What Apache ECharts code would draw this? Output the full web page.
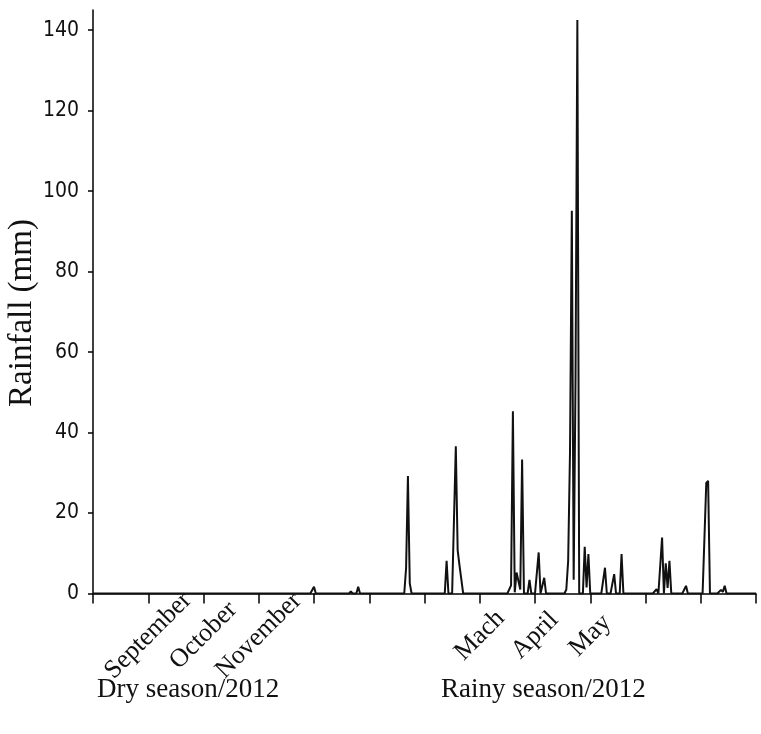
<!DOCTYPE html>
<html>
<head>
<meta charset="utf-8">
<script src="https://cdn.jsdelivr.net/npm/echarts@6/dist/echarts.min.js"></script>
<style>
html, body { margin: 0; padding: 0; background: #fff; }
#rain { width: 761px; height: 734px; }
</style>
</head>
<body>
<div id="rain"></div>
<script>
// days with rain (day 0 = start of the x axis, 30 days per tick) and daily rainfall, mm
const rainDay = [120, 140, 144, 170, 171, 172, 192, 197, 198, 199, 200,
  227, 228, 229, 230, 231, 232, 233, 237, 242, 245,
  257, 258, 259, 260, 261, 262, 263, 267, 268, 269, 278, 283, 287,
  306, 309, 311, 312, 313, 322, 333, 334, 341, 342, 343];
const rainMm = [1.7, 0.5, 1.7, 6.3, 29.2, 2.5, 8.1, 36.6, 10.8, 7, 3.5,
  2, 45.3, 0.3, 5.2, 4.8, 1, 33.3, 3.4, 10.2, 3.9,
  1, 8, 35, 95.1, 3.4, 53, 142.5, 11.6, 1.5, 9.8, 6.4, 4.8, 9.8,
  1.1, 13.9, 7.5, 1.4, 8.1, 1.9, 27.5, 28.0, 0.9, 0.4, 1.9];
const lastDay = 360;

// month tick labels
const monthTicks = [30, 60, 90, 210, 240, 270];
const monthNames = ['September', 'October', 'November', 'Mach', 'April', 'May'];
const yTicks = [0, 20, 40, 60, 80, 100, 120, 140];

// every other day had no rain
const daily = [];
for (let d = 0; d <= lastDay; d++) daily.push([d, 0]);
rainDay.forEach((d, i) => { daily[d][1] = rainMm[i]; });

const myChart = echarts.init(document.getElementById('rain'));
const serif = '"Liberation Serif", "Times New Roman", serif';
const narrow = '"Liberation Sans Narrow", "DejaVu Sans Condensed", "Liberation Sans", sans-serif';

const option = {
  animation: false,
  grid: { left: 93, right: 5, top: 10, bottom: 140.5 },
  xAxis: {
    type: 'value',
    min: 0,
    max: lastDay,
    interval: 30,
    splitLine: { show: false },
    axisLine: { lineStyle: { color: '#000', width: 1.5 } },
    axisTick: { length: 10, lineStyle: { color: '#000', width: 1.5 } },
    axisLabel: {
      rotate: 45,
      align: 'center',
      verticalAlign: 'middle',
      margin: 42,
      fontFamily: serif,
      fontSize: 26,
      color: '#111',
      formatter: v => {
        const i = monthTicks.indexOf(v);
        return i < 0 ? '' : monthNames[i];
      }
    }
  },
  yAxis: {
    type: 'value',
    min: 0,
    max: 145,
    interval: 20,
    splitLine: { show: false },
    axisLine: { show: true, lineStyle: { color: '#000', width: 1.5 } },
    axisTick: { show: true, length: 5, customValues: yTicks, lineStyle: { color: '#000', width: 1.5 } },
    axisLabel: {
      customValues: yTicks,
      margin: 14,
      fontFamily: narrow,
      fontSize: 21,
      color: '#111'
    }
  },
  graphic: [
    {
      type: 'text', x: 22, y: 313, rotation: Math.PI / 2,
      style: { text: 'Rainfall (mm)', fontFamily: serif, fontSize: 33, fill: '#111', align: 'center', verticalAlign: 'middle' }
    },
    {
      type: 'text', left: 97, top: 676,
      style: { text: 'Dry season/2012', fontFamily: serif, fontSize: 27, fill: '#111' }
    },
    {
      type: 'text', left: 441, top: 676,
      style: { text: 'Rainy season/2012', fontFamily: serif, fontSize: 27, fill: '#111' }
    }
  ],
  series: [
    {
      type: 'line',
      data: daily,
      showSymbol: false,
      lineStyle: { color: '#111', width: 2 },
      z: 1
    }
  ]
};

myChart.setOption(option);
</script>
</body>
</html>
